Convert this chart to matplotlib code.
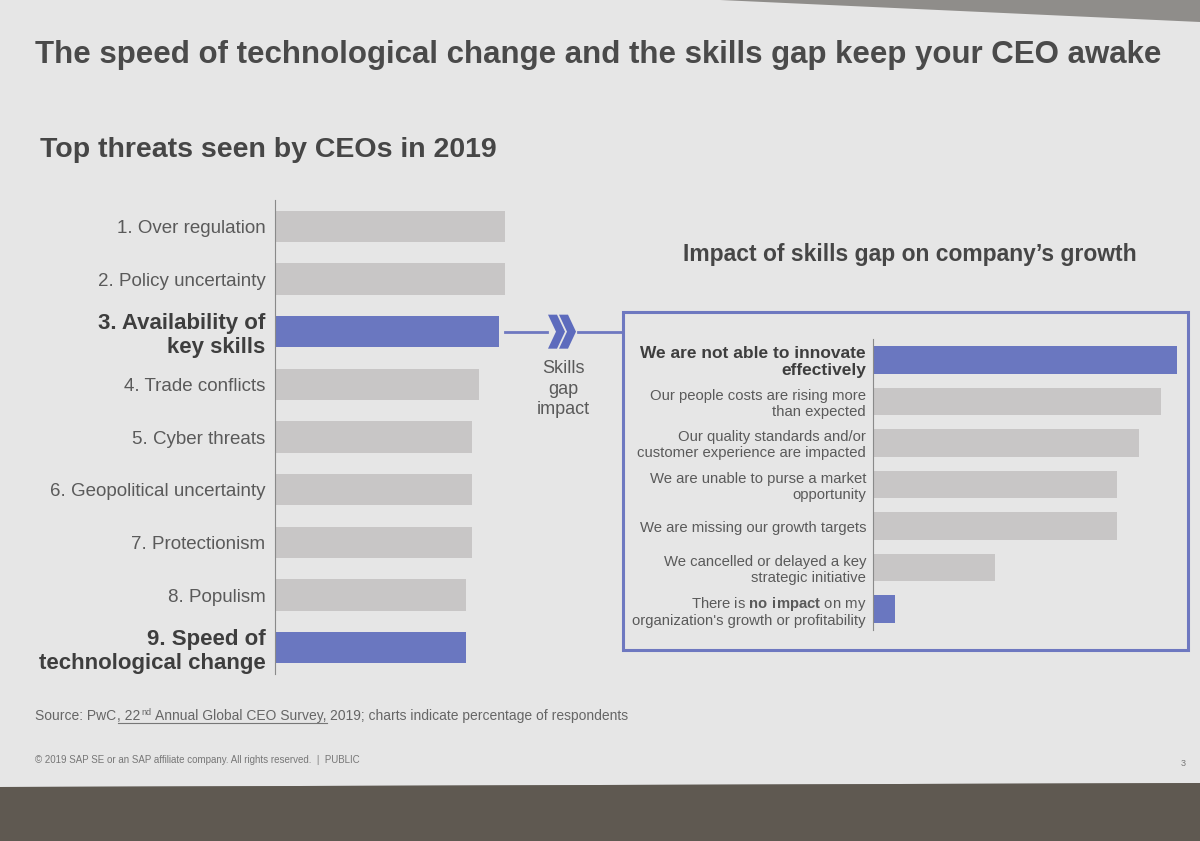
import matplotlib
matplotlib.use("Agg")
import matplotlib.pyplot as plt
from matplotlib.patches import Polygon, Rectangle
from matplotlib.lines import Line2D

# ---------------- data ----------------
threats = ["1. Over regulation", "2. Policy uncertainty", "3. Availability of\nkey skills",
           "4. Trade conflicts", "5. Cyber threats", "6. Geopolitical uncertainty",
           "7. Protectionism", "8. Populism", "9. Speed of\ntechnological change"]
threat_values = [35, 35, 34, 31, 30, 30, 30, 29, 29]
threat_highlight = [False, False, True, False, False, False, False, False, True]

impacts = ["We are not able to innovate\neffectively",
           "Our people costs are rising more\nthan expected",
           "Our quality standards and/or\ncustomer experience are impacted",
           "We are unable to purse a market\nopportunity",
           "We are missing our growth targets",
           "We cancelled or delayed a key\nstrategic initiative",
           r"There is $\mathbf{no\ impact}$ on my" + "\norganization's growth or profitability"]
impact_values = [55, 52, 48, 44, 44, 22, 4]
impact_highlight = [True, False, False, False, False, False, True]

title = "The speed of technological change and the skills gap keep your CEO awake"
left_title = "Top threats seen by CEOs in 2019"
right_title = "Impact of skills gap on company\u2019s growth"
connector_text = "Skills\ngap\nimpact"

# ---------------- style ----------------
plt.rcParams['font.family'] = ['Liberation Sans', 'DejaVu Sans']
plt.rcParams['mathtext.fontset'] = 'custom'
plt.rcParams['mathtext.rm'] = 'Liberation Sans'
plt.rcParams['mathtext.bf'] = 'Liberation Sans:bold'

GREY_BAR = '#c8c6c6'
BLUE = '#6a77c0'
BOX = '#6e78c0'
TXT = '#5a5a5a'
TXT_B = '#3e3e3e'
SLIDE = '#e6e6e6'

W, H = 1200, 841
def fx(x): return x / W
def fy(y): return 1 - y / H

fig = plt.figure(figsize=(12, 8.41), dpi=100)
fig.patch.set_facecolor('#8f8d8a')
# slide surface and floor band
fig.add_artist(Polygon([(fx(0), fy(0)), (fx(720), fy(0)), (fx(1200), fy(22)),
                        (fx(1200), fy(783)), (fx(0), fy(787))],
                       closed=True, transform=fig.transFigure, facecolor=SLIDE,
                       edgecolor='none', zorder=-10))
fig.add_artist(Polygon([(fx(0), fy(787)), (fx(1200), fy(783)), (fx(1200), fy(841)), (fx(0), fy(841))],
                       closed=True, transform=fig.transFigure, facecolor='#5f5951',
                       edgecolor='none', zorder=-10))

# titles
fig.text(fx(35), fy(55), title, fontsize=22.5, fontweight='bold', color='#4a4a4a', va='center')
fig.text(fx(40), fy(150), left_title, fontsize=20.5, fontweight='bold', color='#464646', va='center')
fig.text(fx(683), fy(255), right_title, fontsize=16.5, fontweight='bold', color='#464646', va='center')

# ---------------- left chart ----------------
axL = fig.add_axes([fx(275), fy(674), (525 - 275) / W, (674 - 200) / H])
yL = list(range(len(threats)))
axL.barh(yL, threat_values, height=0.6,
         color=[BLUE if h else GREY_BAR for h in threat_highlight])
axL.set_ylim(len(threats) - 0.5, -0.5)
axL.set_xlim(0, 38)
axL.set_yticks(yL)
axL.set_yticklabels(threats)
for lbl, h in zip(axL.get_yticklabels(), threat_highlight):
    lbl.set_fontweight('bold' if h else 'normal')
    lbl.set_fontsize(16 if h else 13.5)
    lbl.set_color(TXT_B if h else TXT)
    lbl.set_linespacing(1.15)
axL.tick_params(axis='y', length=0, pad=7)
axL.set_xticks([])
for s in ['top', 'right', 'bottom']:
    axL.spines[s].set_visible(False)
axL.spines['left'].set_color('#8a8a8a')
axL.patch.set_alpha(0)

# ---------------- right chart ----------------
axR = fig.add_axes([fx(873), fy(630), (1183 - 873) / W, (630 - 339) / H])
yR = list(range(len(impacts)))
axR.barh(yR, impact_values, height=0.66,
         color=[BLUE if h else GREY_BAR for h in impact_highlight])
axR.set_ylim(len(impacts) - 0.5, -0.5)
axR.set_xlim(0, 56)
axR.set_yticks(yR)
axR.set_yticklabels(impacts)
for i, lbl in enumerate(axR.get_yticklabels()):
    lbl.set_fontsize(12.5 if i == 0 else 10.7)
    lbl.set_fontweight('bold' if i == 0 else 'normal')
    lbl.set_color(TXT_B if i == 0 else TXT)
    lbl.set_linespacing(1.15)
axR.tick_params(axis='y', length=0, pad=5)
axR.set_xticks([])
for s in ['top', 'right', 'bottom']:
    axR.spines[s].set_visible(False)
axR.spines['left'].set_color('#8a8a8a')
axR.patch.set_alpha(0)

# box around right chart
fig.add_artist(Rectangle((fx(623), fy(650)), (1188 - 623) / W, (650 - 312) / H,
                         transform=fig.transFigure, fill=False, edgecolor=BOX, lw=2.2))

# ---------------- connector ----------------
fig.canvas.draw()
px, py = axL.transData.transform((threat_values[2], 2))
ycon = H - py
xend = px
fig.add_artist(Line2D([fx(xend + 6), fx(547)], [fy(ycon), fy(ycon)],
                      transform=fig.transFigure, color=BOX, lw=2))
fig.add_artist(Line2D([fx(578), fx(623)], [fy(ycon), fy(ycon)],
                      transform=fig.transFigure, color=BOX, lw=2))
for x0 in (548, 559):
    pts = [(x0, ycon - 17), (x0 + 9, ycon - 17), (x0 + 17, ycon), (x0 + 9, ycon + 17),
           (x0, ycon + 17), (x0 + 8, ycon)]
    fig.add_artist(Polygon([(fx(a), fy(b)) for a, b in pts], closed=True,
                           transform=fig.transFigure, facecolor='#5d6bbd', edgecolor='none'))
fig.text(fx(563), fy(ycon + 28), connector_text, fontsize=13, color=TXT,
         ha='center', va='top', linespacing=1.3)

# ---------------- footer ----------------
renderer = fig.canvas.get_renderer()
fs = 10
ysrc = fy(720)
space = fs * 0.28 * 100 / 72
x = 35
def put(s, xpix, size=fs, dy=0.0):
    t = fig.text(fx(xpix), ysrc + dy, s, fontsize=size, color='#666666', va='baseline')
    bb = t.get_window_extent(renderer)
    return bb.x1
x1 = put("Source: PwC", x)
u0 = x1
x2 = put(", 22", x1 + 1)
x3 = put("nd", x2 + 0.5, size=6.5, dy=5 / H)
x4 = put("Annual Global CEO Survey,", x3 + space)
u1 = x4
put("2019; charts indicate percentage of respondents", x4 + space)
fig.add_artist(Line2D([fx(u0 + 2), fx(u1)], [ysrc - 2.5 / H, ysrc - 2.5 / H],
                      transform=fig.transFigure, color='#777777', lw=0.8))

fig.text(fx(35), fy(760), "\u00a9 2019 SAP SE or an SAP affiliate company. All rights reserved.  |  PUBLIC",
         fontsize=7, color='#777777', va='center')
fig.text(fx(1186), fy(763), "3", fontsize=6.5, color='#777777', va='center', ha='right')

fig.savefig("out.png", dpi=100, facecolor=fig.get_facecolor())
